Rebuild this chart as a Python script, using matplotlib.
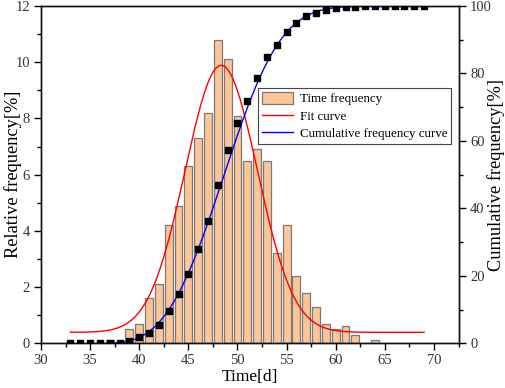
import numpy as np
import matplotlib
matplotlib.use("Agg")
import matplotlib.pyplot as plt
from matplotlib.ticker import MultipleLocator

plt.rcParams['font.family'] = ['Liberation Serif', 'DejaVu Serif']

# Histogram (relative frequency, %)
days = [37, 38, 39, 40, 41, 42, 43, 44, 45, 46, 47, 48, 49, 50, 51, 52, 53,
        54, 55, 56, 57, 58, 59, 60, 61, 62, 63, 64]
rel_freq = [0.1, 0.05, 0.5, 0.7, 1.6, 2.1, 4.2, 4.9, 6.3, 7.3, 8.2, 10.8, 10.1,
            8.1, 6.5, 6.9, 6.5, 3.2, 4.2, 2.4, 1.8, 1.3, 0.7, 0.5, 0.6, 0.3, 0.0, 0.1]

# Cumulative frequency points (%)
cum_days = list(range(33, 70))
cum_freq = [0, 0, 0, 0, 0.1, 0.15, 0.7, 1.8, 3.1, 5.3, 9.5, 14.5, 20.6, 28.1,
            36.2, 47.0, 57.2, 65.3, 71.7, 78.6, 85.0, 88.3, 92.4, 95.0, 96.9,
            98.0, 98.7, 99.5, 99.7, 99.85, 99.9, 99.9, 99.9, 99.9, 99.9, 99.9, 99.9]

# Gaussian fit parameters
gauss_y0, gauss_A, gauss_xc, gauss_w = 0.39, 9.5, 48.35, 3.68
fit_range = (33, 69)
# Cumulative (Weibull-type) fit parameters for the blue curve
cum_x0, cum_lam, cum_k = 36.0, 14.18, 3.2
cum_range = (37, 69)

fig = plt.figure(figsize=(5.05, 3.88), dpi=100)
ax = fig.add_axes([41/505, 1-343.3/388, 418/505, 337.3/388])
ax2 = ax.twinx()

bars = ax.bar(days, rel_freq, width=0.8, color='#FCC698', edgecolor='#7a7a7a',
              linewidth=0.9, label='Time frequency', zorder=2)

xf = np.linspace(*fit_range, 400)
yf = gauss_y0 + gauss_A*np.exp(-(xf-gauss_xc)**2/(2*gauss_w**2))
fit_line, = ax.plot(xf, yf, color='#ff0000', lw=1.0, label='Fit curve', zorder=3)

xc = np.linspace(*cum_range, 400)
yc = 100*(1-np.exp(-((xc-cum_x0)/cum_lam)**cum_k))
cum_line, = ax2.plot(xc, yc, color='#0000ff', lw=1.0,
                     label='Cumulative frequency curve', zorder=3)
ax2.plot(cum_days, cum_freq, 's', color='black', ms=4.3, zorder=4, clip_on=True)

ax.set_xlim(30, 72.55)
ax.set_ylim(0, 12)
ax2.set_ylim(0, 100)

ax.xaxis.set_major_locator(MultipleLocator(5))
ax.xaxis.set_minor_locator(MultipleLocator(2.5))
ax.yaxis.set_major_locator(MultipleLocator(2))
ax.yaxis.set_minor_locator(MultipleLocator(1))
ax2.yaxis.set_major_locator(MultipleLocator(20))
ax2.yaxis.set_minor_locator(MultipleLocator(10))

for a in (ax, ax2):
    a.tick_params(which='major', direction='out', length=5, width=1,
                  labelsize=10.5, colors='black', labelcolor='#333333', pad=3)
    a.tick_params(which='minor', direction='out', length=3, width=1)
    for s in a.spines.values():
        s.set_linewidth(1.0)
        s.set_color('#111111')

ax.set_xlabel('Time[d]', fontsize=12.5, labelpad=1)
ax.set_ylabel('Relative frequency[%]', fontsize=13.2)
ax.yaxis.set_label_coords(-0.046, 0.5)
ax2.set_ylabel('Cumulative frequency[%]', fontsize=13.2, rotation=90)
ax2.yaxis.set_label_coords(1.068, 0.5)

leg = ax2.legend([bars, fit_line, cum_line],
                 ['Time frequency', 'Fit curve', 'Cumulative frequency curve'],
                 loc='upper left', bbox_to_anchor=(0.519, 0.757),
                 borderaxespad=0, fontsize=9.4, fancybox=False,
                 framealpha=1, edgecolor='#444444', handlelength=2.4,
                 handleheight=1.0, borderpad=0.3, labelspacing=0.32,
                 handletextpad=0.5)
leg.get_frame().set_linewidth(0.8)

fig.savefig('out.png', dpi=100)
